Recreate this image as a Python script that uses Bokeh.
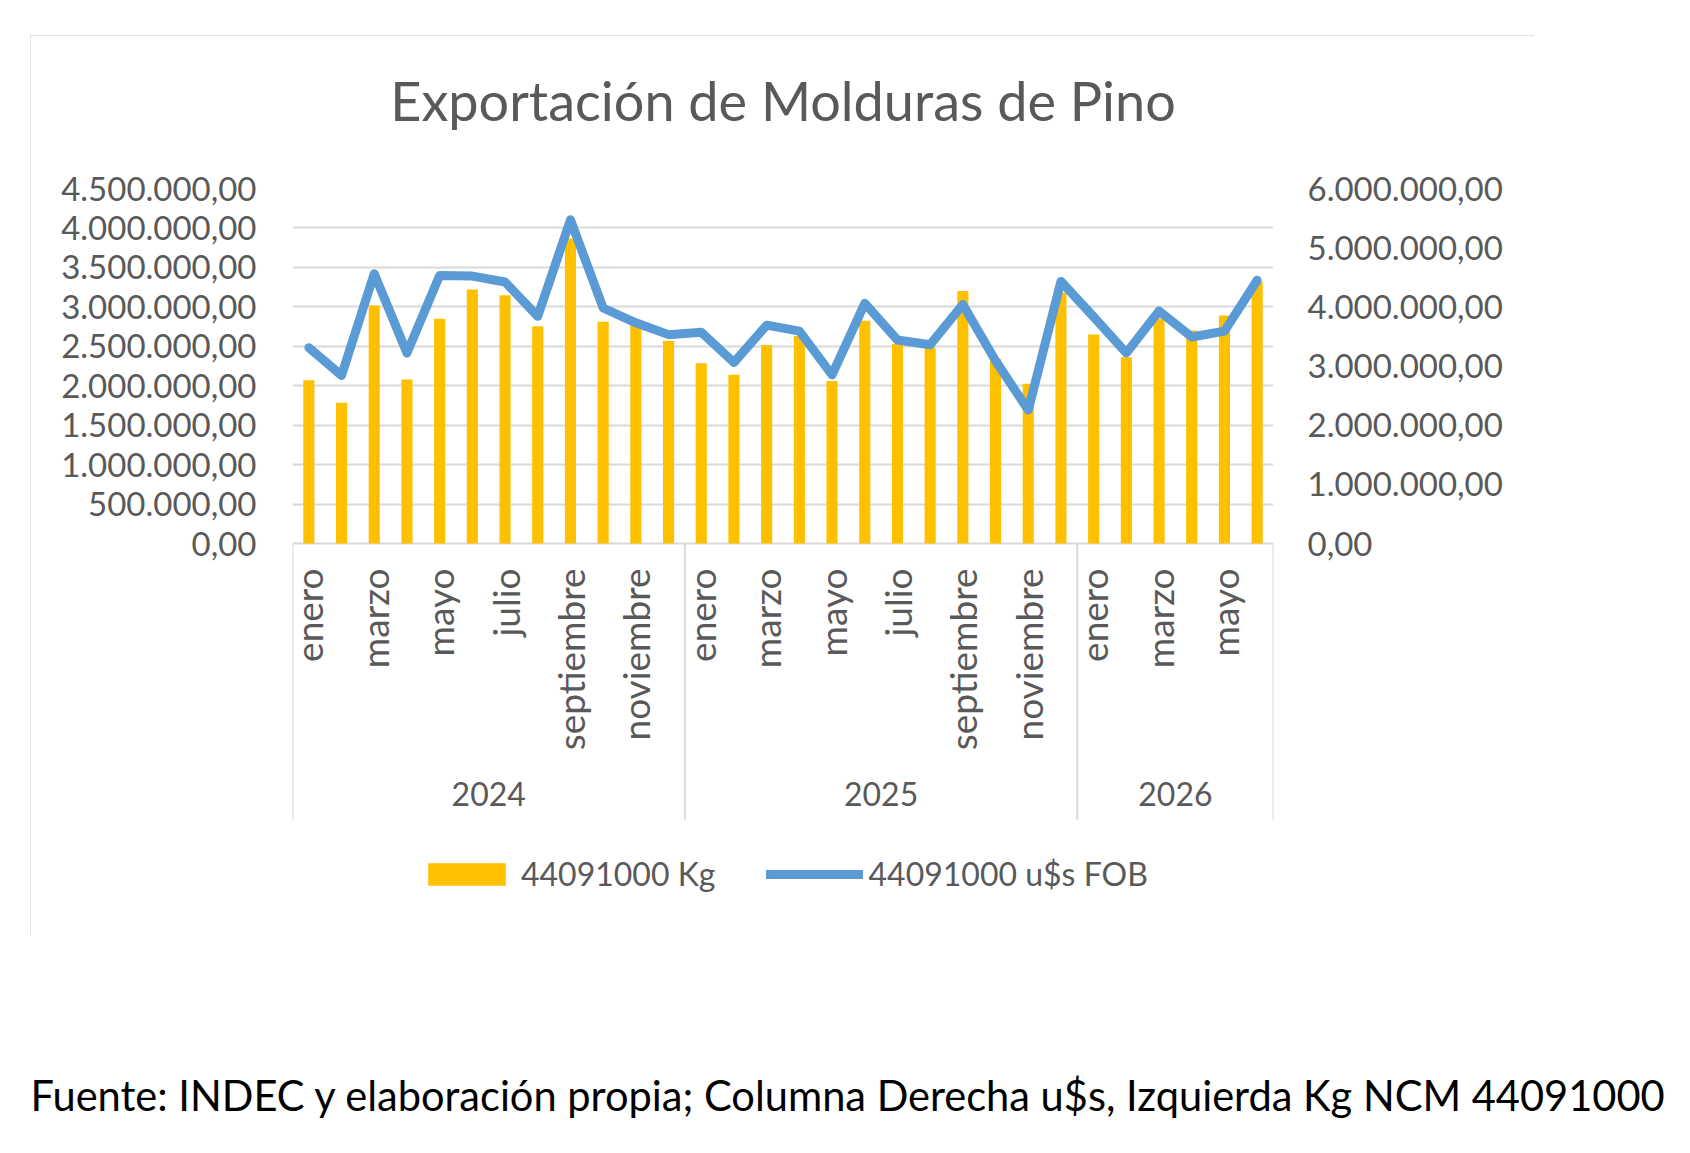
import math
from bokeh.plotting import figure
from bokeh.models import (ColumnDataSource, Range1d, LinearAxis, FixedTicker,
                          Legend, LegendItem, Label, Title)
from bokeh.layouts import column
from bokeh.core.properties import value
from bokeh.embed import file_html
from bokeh.resources import INLINE

# ---- data ----
years = ["2024", "2025", "2026"]
months_per_year = [12, 12, 6]
month_names = ["enero", "febrero", "marzo", "abril", "mayo", "junio", "julio",
               "agosto", "septiembre", "octubre", "noviembre", "diciembre"]

kg = [2070000, 1785000, 3016000, 2080000, 2850000, 3220000, 3147000, 2754000,
      3867000, 2810000, 2770000, 2570000,
      2285000, 2140000, 2515000, 2630000, 2060000, 2825000, 2530000, 2485000,
      3200000, 2340000, 2025000, 3180000,
      2650000, 2360000, 2850000, 2700000, 2890000, 3320000]

usd = [3310000, 2840000, 4560000, 3220000, 4530000, 4520000, 4420000, 3840000,
       5470000, 3980000, 3730000, 3530000,
       3570000, 3060000, 3690000, 3590000, 2850000, 4060000, 3440000, 3360000,
       4040000, 3090000, 2255000, 4430000,
       3830000, 3220000, 3930000, 3490000, 3590000, 4450000]

left_ticks = [0, 500000, 1000000, 1500000, 2000000, 2500000, 3000000,
              3500000, 4000000, 4500000]
right_ticks = [0, 1000000, 2000000, 3000000, 4000000, 5000000, 6000000]

title_text = "Exportación de Molduras de Pino"
legend_kg = "44091000 Kg"
legend_usd = "44091000 u$s FOB"
footer_text = ("Fuente: INDEC y elaboración propia; Columna Derecha u$s, "
               "Izquierda Kg NCM 44091000")

FONT = "Lato"
GREY = "#595959"
GRID = "#D9D9D9"


def es_num(v):
    s = f"{v:,.2f}"
    return s.replace(",", "X").replace(".", ",").replace("X", ".")


# category positions
idx = list(range(len(kg)))
month_list = []
year_centers = []
bounds = [-0.5]
for y, n in zip(years, months_per_year):
    start = len(month_list)
    month_list += month_names[:n]
    year_centers.append(start + (n - 1) / 2)
    bounds.append(start + n - 0.5)

# ---- layout (pixels) ----
W, H = 1504, 900
FRAME_TOP, FRAME_H = 153, 722
ZERO_PX = 355          # distance from frame top to the zero line
SEP_PX = 276           # separator length below the zero line

below = (FRAME_H - ZERO_PX) / ZERO_PX
lmax, rmax = left_ticks[-1], right_ticks[-1]

p = figure(width=W, height=H, output_backend="svg", toolbar_location=None,
           tools="", x_range=Range1d(-0.5, len(kg) - 0.5),
           y_range=Range1d(-lmax * below, lmax),
           x_axis_location=None,
           min_border_left=262, min_border_right=W - 262 - 981,
           min_border_top=FRAME_TOP, min_border_bottom=H - FRAME_TOP - FRAME_H)
p.frame_align = False
p.extra_y_ranges = {"usd": Range1d(-rmax * below, rmax)}
p.outline_line_color = None
p.styles = {"outline": "2px solid #D9D9D9", "outline-offset": "-2px"}

p.title.text = title_text
p.title.align = "center"
p.title.text_font = FONT
p.title.text_font_size = "54px"
p.title.text_font_style = "normal"
p.title.text_color = GREY
p.title.standoff = 0
# empty gap between the title and the plot area
p.add_layout(Title(text=" ", text_font_size="1px", standoff=53), "above")

p.xgrid.visible = False
p.ygrid.ticker = FixedTicker(ticks=left_ticks)
p.ygrid.grid_line_color = GRID
p.ygrid.grid_line_width = 2

ax = p.yaxis[0]
ax.ticker = FixedTicker(ticks=left_ticks)
ax.major_label_overrides = {t: es_num(t) for t in left_ticks}
axr = LinearAxis(y_range_name="usd", ticker=FixedTicker(ticks=right_ticks),
                 major_label_overrides={t: es_num(t) for t in right_ticks})
p.add_layout(axr, "right")
for a, so in ((ax, 36), (axr, 34)):
    a.axis_line_color = None
    a.major_tick_line_color = None
    a.minor_tick_line_color = None
    a.major_tick_out = 0
    a.major_tick_in = 0
    a.major_label_standoff = so
    a.major_label_text_font = FONT
    a.major_label_text_font_size = "33px"
    a.major_label_text_color = GREY

# ---- marks ----
src = ColumnDataSource(dict(x=idx, kg=kg, usd=usd))
bars = p.vbar(x="x", top="kg", width=0.34, source=src, fill_color="#FFC000",
              line_color=None)
line = p.line(x="x", y="usd", source=src, y_range_name="usd",
              line_color="#5B9BD5", line_width=9, line_join="round",
              line_cap="round")

# category axis drawn by hand: month labels, years, group separators
lab = ColumnDataSource(dict(x=idx[::2], t=month_list[::2],
                            y=[0] * len(idx[::2])))
p.text(x="x", y="y", text="t", source=lab, angle=math.pi / 2,
       text_align="right", text_baseline="middle", y_offset=25,
       text_font=value(FONT), text_font_size="37px", text_color=GREY)

ysrc = ColumnDataSource(dict(x=year_centers, t=years, y=[0] * len(years)))
p.text(x="x", y="y", text="t", source=ysrc, text_align="center",
       text_baseline="middle", y_offset=250, text_font=value(FONT),
       text_font_size="32px", text_color=GREY)

sep_bottom = -lmax * SEP_PX / ZERO_PX
p.segment(x0=bounds, y0=[0] * len(bounds), x1=bounds,
          y1=[sep_bottom] * len(bounds), line_color=GRID, line_width=2)

legend = Legend(items=[LegendItem(label=legend_kg, renderers=[bars]),
                       LegendItem(label=legend_usd, renderers=[line])],
                orientation="horizontal", location=(126, 17),
                glyph_width=97, glyph_height=28, label_standoff=6,
                spacing=50, padding=0, border_line_color=None,
                background_fill_alpha=0, label_text_font=FONT,
                label_text_font_size="32px", label_text_color=GREY)
p.add_layout(legend)

p.margin = (35, 0, 0, 30)

# ---- footer ----
FW, FH = 1674, 195
foot = figure(width=FW, height=FH, output_backend="svg", toolbar_location=None,
              tools="", x_range=Range1d(0, FW), y_range=Range1d(0, FH),
              x_axis_location=None, y_axis_location=None, min_border=0)
foot.frame_align = False
foot.outline_line_color = None
foot.grid.visible = False
foot.add_layout(Label(x=30, y=36, text=footer_text, text_font=FONT,
                      text_font_size="41.6px", text_color="black",
                      text_baseline="middle"))

layout = column(p, foot, spacing=0)
open("out.html", "w").write(file_html(layout, INLINE))
